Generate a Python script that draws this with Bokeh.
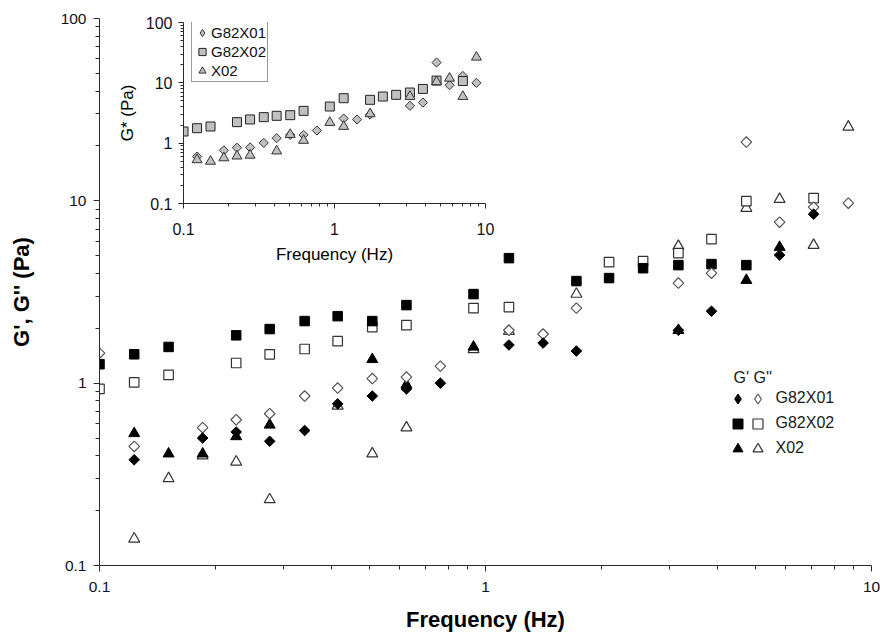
import numpy as np
from bokeh.plotting import figure
from bokeh.models import Range1d, FixedTicker, CustomJSTickFormatter, Legend, LegendItem, Label
from bokeh.embed import file_html
from bokeh.resources import INLINE

FONT = "Liberation Sans"

# ---- storage (G') and loss (G'') moduli, Pa, against frequency, Hz ----
g82x01_gp_freq = [0.123, 0.185, 0.226, 0.276, 0.34, 0.414, 0.509, 0.624, 0.764,
                  1.15, 1.41, 1.72, 3.16, 3.85, 5.78, 7.08]
g82x01_gp = [0.38, 0.50, 0.54, 0.48, 0.55, 0.77, 0.85, 0.93, 1.00,
             1.62, 1.66, 1.50, 1.95, 2.48, 5.04, 8.45]

g82x01_gpp_freq = [0.1, 0.123, 0.185, 0.226, 0.276, 0.34, 0.414, 0.509, 0.624, 0.764,
                   1.15, 1.41, 1.72, 3.16, 3.85, 4.74, 5.78, 7.08, 8.71]
g82x01_gpp = [1.46, 0.45, 0.57, 0.63, 0.68, 0.85, 0.94, 1.06, 1.08, 1.24,
              1.95, 1.86, 2.58, 3.54, 4.01, 21.0, 7.64, 9.23, 9.71]

g82x02_gp_freq = [0.1, 0.123, 0.151, 0.226, 0.276, 0.34, 0.414, 0.509, 0.624, 0.931,
                  1.15, 1.72, 2.09, 2.56, 3.16, 3.85, 4.74]
g82x02_gp = [1.27, 1.44, 1.58, 1.83, 1.98, 2.19, 2.33, 2.19, 2.68, 3.08,
             4.85, 3.63, 3.77, 4.27, 4.44, 4.50, 4.44]

g82x02_gpp_freq = [0.1, 0.123, 0.151, 0.226, 0.276, 0.34, 0.414, 0.509, 0.624, 0.931,
                   1.15, 2.09, 2.56, 3.16, 3.85, 4.74, 7.08]
g82x02_gpp = [0.93, 1.01, 1.11, 1.29, 1.44, 1.54, 1.70, 2.03, 2.08, 2.58,
              2.61, 4.61, 4.67, 5.17, 6.17, 9.96, 10.35]

x02_gp_freq = [0.123, 0.151, 0.185, 0.226, 0.276, 0.509, 0.624, 0.931, 3.16, 4.74, 5.78]
x02_gp = [0.53, 0.41, 0.41, 0.51, 0.59, 1.35, 0.98, 1.58, 1.95, 3.67, 5.57]

x02_gpp_freq = [0.123, 0.151, 0.185, 0.226, 0.276, 0.414, 0.509, 0.624, 0.931,
                1.15, 1.72, 3.16, 4.74, 5.78, 7.08, 8.71]
x02_gpp = [0.14, 0.30, 0.40, 0.37, 0.23, 0.75, 0.41, 0.57, 1.53,
           1.93, 3.08, 5.64, 9.12, 10.2, 5.71, 25.4]

# ---- complex modulus G*, Pa (inset) ----
g82x01_gs_freq = [0.123, 0.185, 0.226, 0.276, 0.34, 0.414, 0.509, 0.624, 0.764,
                  1.15, 1.41, 1.72, 3.16, 3.85, 4.74, 5.78, 7.08, 8.71]
g82x01_gs = [0.60, 0.76, 0.84, 0.85, 1.01, 1.21, 1.37, 1.37, 1.62,
             2.56, 2.47, 2.98, 4.16, 4.72, 21.7, 9.13, 13.0, 10.0]

g82x02_gs_freq = [0.1, 0.123, 0.151, 0.226, 0.276, 0.34, 0.414, 0.509, 0.624, 0.931,
                  1.15, 1.72, 2.09, 2.56, 3.16, 3.85, 4.74, 7.08]
g82x02_gs = [1.56, 1.77, 1.89, 2.23, 2.47, 2.70, 2.84, 2.91, 3.43, 4.05,
             5.56, 5.23, 5.93, 6.33, 6.91, 7.93, 10.9, 10.7]

x02_gs_freq = [0.123, 0.151, 0.185, 0.226, 0.276, 0.414, 0.509, 0.624, 0.931,
               1.15, 1.72, 3.16, 4.74, 5.78, 7.08, 8.71]
x02_gs = [0.53, 0.50, 0.57, 0.61, 0.63, 0.74, 1.39, 1.11, 2.20,
          1.89, 3.06, 5.93, 10.4, 11.9, 5.93, 26.6]

sample_names = ["G82X01", "G82X02", "X02"]
x_ticks = [0.1, 1, 10]
y_ticks = [0.1, 1, 10, 100]


def decade_minors(lo_exp, hi_exp):
    return [m * 10.0 ** e for e in range(lo_exp, hi_exp) for m in range(2, 10)]


def style_log_axes(fig, tick_size, label_size, label_style, major_out, minor_out):
    fig.xaxis.ticker = FixedTicker(ticks=x_ticks, minor_ticks=decade_minors(-1, 1))
    fig.yaxis.ticker = FixedTicker(ticks=y_ticks, minor_ticks=decade_minors(-1, 2))
    for ax in (fig.xaxis[0], fig.yaxis[0]):
        ax.formatter = CustomJSTickFormatter(code="return tick.toString()")
        ax.axis_line_color = "#2a2a2a"
        ax.axis_line_width = 1
        ax.major_tick_line_color = "#2a2a2a"
        ax.minor_tick_line_color = "#2a2a2a"
        ax.major_tick_in = 0
        ax.major_tick_out = major_out
        ax.minor_tick_in = 0
        ax.minor_tick_out = minor_out
        ax.major_label_text_font = FONT
        ax.major_label_text_font_size = tick_size
        ax.major_label_text_color = "#10101c"
        ax.axis_label_text_font = FONT
        ax.axis_label_text_font_size = label_size
        ax.axis_label_text_font_style = label_style
        ax.axis_label_text_color = "#000000"
    fig.grid.visible = False
    fig.outline_line_color = None


# ================= main chart =================
p = figure(width=880, height=639, x_axis_type="log", y_axis_type="log",
           x_range=Range1d(0.1, 10), y_range=Range1d(0.1, 100),
           output_backend="svg", toolbar_location=None,
           min_border_left=99, min_border_right=9, min_border_top=18, min_border_bottom=74)
style_log_axes(p, "15.5px", "22px", "bold", 6, 4)
p.xaxis.axis_label = "Frequency (Hz)"
p.yaxis.axis_label = "G', G'' (Pa)"
p.xaxis.major_label_standoff = 10
p.xaxis.axis_label_standoff = 12
p.yaxis.major_label_standoff = 7
p.yaxis.axis_label_standoff = 24

open_line = "#333333"
rot = np.pi / 4

# legend keys for the rotated-square series: same points at zero size, so only
# the legend swatch (an upright diamond) shows; drawn first, beneath the data
k_g1_gpp = p.scatter(g82x01_gpp_freq, g82x01_gpp, marker="diamond", size=0,
                     fill_color="white", line_color="#555555", line_width=1.2)
k_g1_gp = p.scatter(g82x01_gp_freq, g82x01_gp, marker="diamond", size=0,
                    fill_color="black", line_color="black")

r_x02_gpp = p.scatter(x02_gpp_freq, x02_gpp, marker="triangle", size=11,
                      fill_color="white", line_color=open_line, line_width=1.2)
r_x02_gp = p.scatter(x02_gp_freq, x02_gp, marker="triangle", size=11,
                     fill_color="black", line_color="black")
r_g2_gpp = p.scatter(g82x02_gpp_freq, g82x02_gpp, marker="square", size=9.5,
                     fill_color="white", line_color=open_line, line_width=1.2)
r_g2_gp = p.scatter(g82x02_gp_freq, g82x02_gp, marker="square", size=9.5,
                    fill_color="black", line_color="black")
r_g1_gpp = p.scatter(g82x01_gpp_freq, g82x01_gpp, marker="square", angle=rot, size=7.5,
                     fill_color="white", line_color="#555555", line_width=1.2)
r_g1_gp = p.scatter(g82x01_gp_freq, g82x01_gp, marker="square", angle=rot, size=7.5,
                    fill_color="black", line_color="black")

legend_common = dict(padding=0, margin=0, spacing=0, glyph_width=25, glyph_height=25,
                     label_height=25, label_text_font=FONT, label_text_font_size="16px",
                     label_text_color="#1a1a1a", background_fill_alpha=0,
                     border_line_alpha=0)

leg_storage = Legend(items=[LegendItem(label=" ", renderers=[r]) for r in (k_g1_gp, r_g2_gp, r_x02_gp)],
                     label_standoff=0, location=(625.5, 104.5), **legend_common)
leg_loss = Legend(items=[LegendItem(label=n, renderers=[r]) for n, r in
                         zip(sample_names, (k_g1_gpp, r_g2_gpp, r_x02_gpp))],
                  label_standoff=6, location=(645.5, 104.5), **legend_common)
p.add_layout(leg_storage)
p.add_layout(leg_loss)
p.add_layout(Label(text="G'  G''", x=634, y=188, x_units="screen", y_units="screen",
                   text_font=FONT, text_font_size="16px", text_color="#1a1a1a",
                   text_baseline="middle"))
p.styles = {"position": "absolute", "left": "0px", "top": "0px"}

# ================= inset: complex modulus =================
q = figure(width=395, height=268, x_axis_type="log", y_axis_type="log",
           x_range=Range1d(0.1, 10), y_range=Range1d(0.1, 100),
           output_backend="svg", toolbar_location=None,
           min_border_left=73, min_border_right=20, min_border_top=22, min_border_bottom=65)
style_log_axes(q, "16px", "17px", "normal", 5, 3)
q.xaxis.axis_label = "Frequency (Hz)"
q.yaxis.axis_label = "G* (Pa)"
q.xaxis.major_label_standoff = 14
q.xaxis.axis_label_standoff = 7
q.yaxis.major_label_standoff = 6
q.yaxis.axis_label_standoff = 6
q.background_fill_alpha = 0
q.border_fill_alpha = 0

gray = "#c0c0c0"
k_g1 = q.scatter(g82x01_gs_freq, g82x01_gs, marker="diamond", size=0,
                 fill_color=gray, line_color="#333333")
s_g1 = q.scatter(g82x01_gs_freq, g82x01_gs, marker="square", angle=rot, size=6.5,
                 fill_color=gray, line_color="#333333")
s_g2 = q.scatter(g82x02_gs_freq, g82x02_gs, marker="square", size=9,
                 fill_color=gray, line_color="#222222")
s_x02 = q.scatter(x02_gs_freq, x02_gs, marker="triangle", size=10,
                  fill_color=gray, line_color="#333333")

inset_legend = Legend(items=[LegendItem(label=n, renderers=[r]) for n, r in
                             zip(sample_names, (k_g1, s_g2, s_x02))],
                      location=(8, 121), padding=1, margin=0, spacing=0,
                      glyph_width=18, glyph_height=19, label_height=19, label_standoff=0,
                      label_text_font=FONT, label_text_font_size="15px",
                      label_text_color="#111111",
                      border_line_color="#333333", border_line_width=1,
                      background_fill_color="white", background_fill_alpha=1)
q.add_layout(inset_legend)
q.styles = {"position": "absolute", "left": "110px", "top": "0px"}

open("out.html", "w").write(file_html([p, q], INLINE, title="Moduli vs frequency"))
